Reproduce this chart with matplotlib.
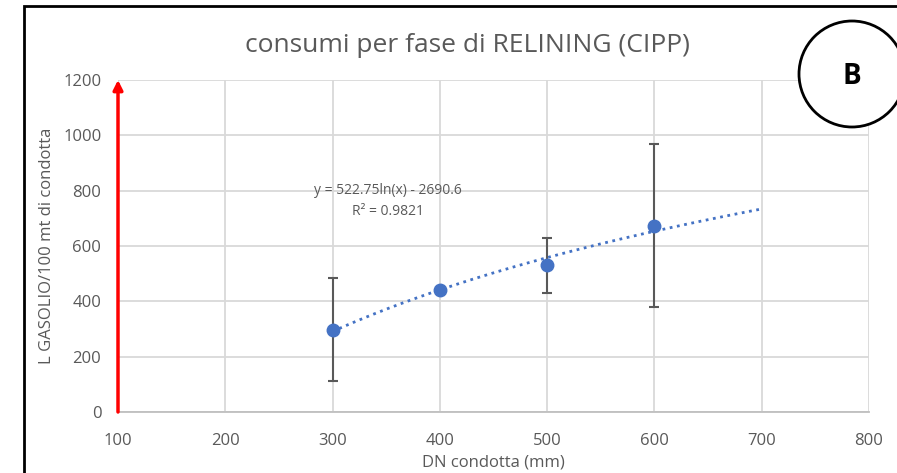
import matplotlib.pyplot as plt
import numpy as np
from matplotlib.patches import Ellipse, Rectangle

# data
dn = [300, 400, 500, 600]
consumo = [297, 440, 530, 672]
err_low = [185, 0, 100, 292]
err_high = [188, 0, 100, 296]

# trendline shown on the chart: y = a ln(x) + b
trend_a = 522.75
trend_b = -2690.6
trend_x = [300, 700]

xticks = [100, 200, 300, 400, 500, 600, 700, 800]
yticks = [0, 200, 400, 600, 800, 1000, 1200]

plt.rcParams['font.family'] = ['Open Sans', 'DejaVu Sans']
grey = '#595959'
blue = '#4472c4'

fig = plt.figure(figsize=(8.97, 4.73), dpi=100)
ax = fig.add_axes([118/897, 1-412/473, (869-118)/897, (412-80)/473])

ax.errorbar(dn, consumo, yerr=[err_low, err_high], fmt='none',
            ecolor=grey, elinewidth=1.5, capsize=3.5, capthick=1.5, zorder=3)
ax.plot(dn, consumo, 'o', color=blue, markersize=9, zorder=4)

xt = np.linspace(trend_x[0], trend_x[1], 200)
ax.plot(xt, trend_a*np.log(xt) + trend_b, ':', color=blue, lw=2, zorder=3)

ax.text(352, 802, 'y = 522.75ln(x) - 2690.6', ha='center', va='center',
        fontsize=10, color=grey, zorder=5)
ax.text(352, 723, 'R² = 0.9821', ha='center', va='center',
        fontsize=10, color=grey, zorder=5)

ax.annotate('', xy=(100, 1200), xytext=(100, 0),
            arrowprops=dict(arrowstyle='-|>', color='red', lw=2.5,
                            mutation_scale=14, shrinkA=0, shrinkB=0),
            zorder=6, annotation_clip=False)

ax.set_xlim(100, 800)
ax.set_ylim(0, 1200)
ax.set_xticks(xticks)
ax.set_yticks(yticks)
ax.grid(True, color='#d9d9d9', lw=1.3)
ax.set_axisbelow(True)
for s in ['top', 'right', 'left']:
    ax.spines[s].set_visible(False)
ax.spines['bottom'].set_color('#bfbfbf')
ax.spines['bottom'].set_linewidth(1.3)
ax.tick_params(length=0, labelsize=12, labelcolor=grey)
ax.tick_params(axis='x', pad=15)
ax.tick_params(axis='y', pad=12)

fig.text(467/897, 1-45/473, 'consumi per fase di RELINING (CIPP)',
         ha='center', va='center', fontsize=19, color=grey)
ax.set_xlabel('DN condotta (mm)', fontsize=12, color=grey, labelpad=4)
ax.set_ylabel('L GASOLIO/100 mt di condotta', fontsize=12, color=grey,
              labelpad=6)

# chart frame
fig.add_artist(Rectangle((24/897, -0.1), 1.2, 1.1 - 6/473, fill=False,
                         edgecolor='black', lw=2, transform=fig.transFigure))

# circled label
fig.add_artist(Ellipse((852/897, 1-74/473), 106/897, 106/473,
                       facecolor='white', edgecolor='black', lw=2,
                       transform=fig.transFigure, zorder=10))
fig.text(852/897, 1-76/473, 'B', ha='center', va='center', fontsize=20,
         fontweight='bold', color='black', zorder=11)

fig.savefig('out.png', dpi=100)
